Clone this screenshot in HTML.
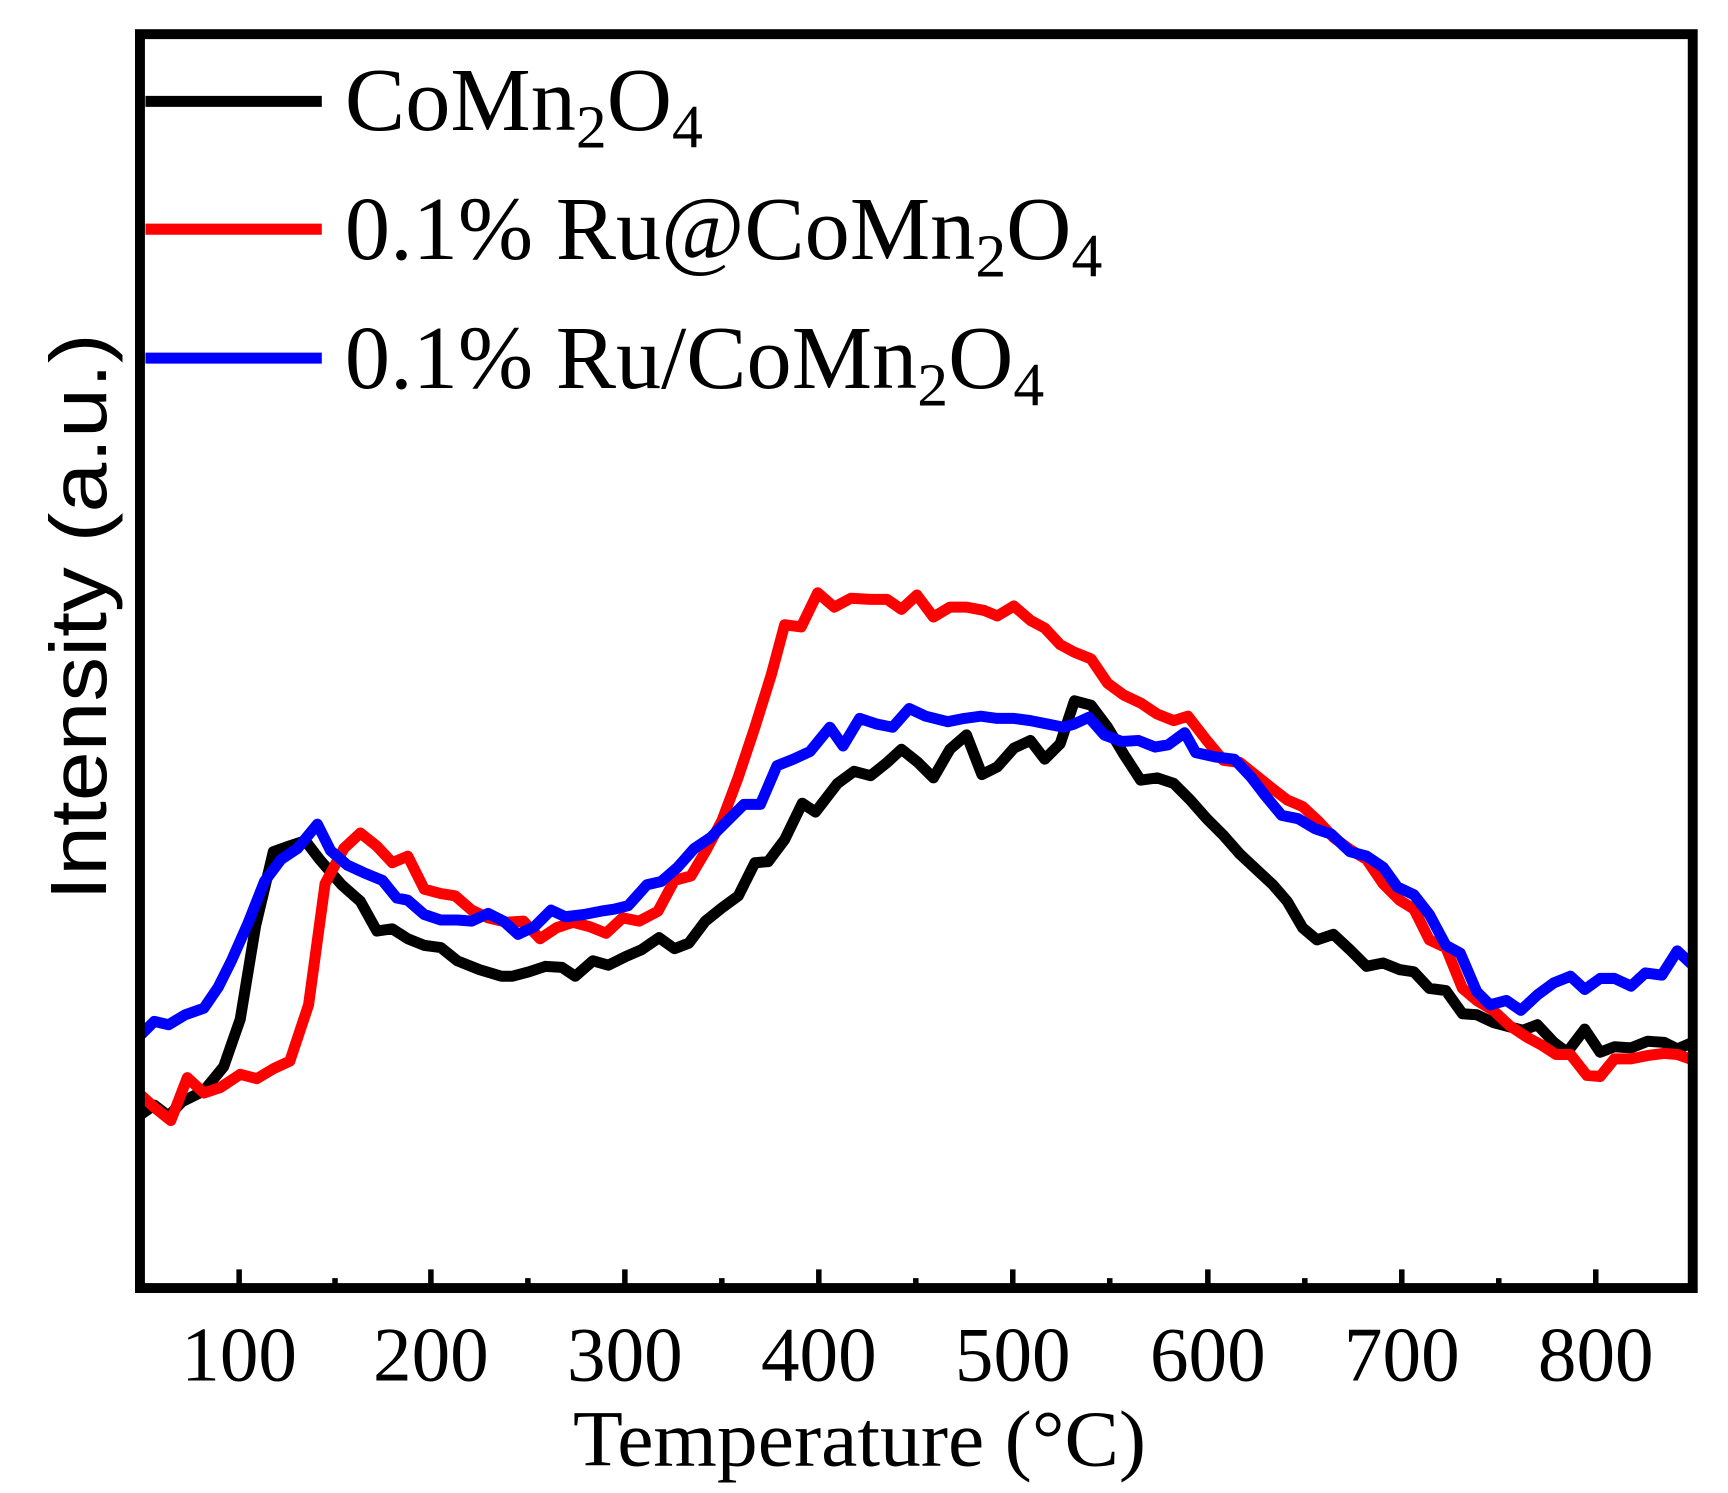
<!DOCTYPE html>
<html><head><meta charset="utf-8"><style>html,body{margin:0;padding:0;background:#fff}svg{display:block}</style></head>
<body>
<svg width="1728" height="1493" viewBox="0 0 1568 1355" preserveAspectRatio="none" xmlns="http://www.w3.org/2000/svg">
<defs><clipPath id="c"><rect x="127" y="31" width="1409" height="1138"/></clipPath></defs>
<g clip-path="url(#c)" fill="none" stroke-width="10" stroke-linejoin="round">
<polyline stroke="#000" points="127,1012 140,1003 153,1013 165,1000 185,990 203,968 218,925 232,840 248,773 262,768 277,763 290,780 310,803 327,818 342,845 356,843 370,852 385,858 400,860 415,872 435,880 455,886 465,886 480,882 495,877 510,878 522,886 538,872 552,876 568,868 582,862 598,851 612,861 625,856 640,836 655,824 670,813 685,783 697,782 712,762 728,729 740,737 760,711 775,700 790,704 805,692 818,680 833,692 847,706 862,680 877,667 891,703 905,696 920,679 935,672 948,689 962,675 975,636 990,640 1005,660 1020,685 1035,708 1050,706 1065,711 1080,726 1095,743 1110,758 1125,775 1140,789 1155,803 1168,818 1182,842 1195,853 1210,848 1225,862 1240,877 1255,874 1270,880 1283,882 1297,897 1312,899 1327,920 1340,921 1355,928 1370,932 1382,935 1395,930 1410,946 1422,955 1438,934 1452,955 1465,950 1480,951 1495,945 1510,946 1522,952 1536,946"/>
<polyline stroke="#f00" points="127,993 140,1005 155,1017 170,978 185,992 200,987 218,975 233,979 248,970 263,963 280,912 295,802 312,770 327,756 342,768 356,783 370,777 385,807 400,811 413,813 428,826 443,833 460,837 475,836 490,852 505,842 520,837 535,841 550,847 565,833 580,836 597,827 612,799 627,795 640,773 655,745 670,705 685,660 700,612 712,567 727,569 742,538 757,551 772,543 790,544 805,544 818,553 832,540 847,560 862,551 877,551 893,554 905,559 920,550 935,563 948,570 962,585 975,592 990,598 1005,620 1020,631 1035,638 1050,648 1065,654 1078,650 1095,672 1110,690 1125,692 1140,704 1155,716 1168,726 1182,732 1196,745 1210,760 1225,771 1240,780 1255,802 1270,817 1283,825 1297,853 1312,860 1327,897 1340,908 1355,917 1370,931 1385,941 1398,948 1412,957 1425,957 1440,976 1452,977 1465,961 1480,961 1495,958 1510,956 1522,957 1536,962"/>
<polyline stroke="#00f" points="127,940 140,927 153,930 168,921 185,915 198,896 210,872 225,838 240,800 255,780 270,770 288,748 300,772 315,785 330,792 347,799 360,815 370,817 385,830 400,835 415,835 428,836 443,829 457,836 470,848 485,841 500,826 513,832 530,830 545,827 558,825 570,822 587,803 600,800 615,787 630,770 645,760 660,745 675,730 690,730 705,695 720,689 735,682 753,660 765,677 780,652 795,657 810,660 825,643 840,650 860,655 875,652 890,650 905,652 920,652 935,654 950,657 965,660 975,657 988,651 1002,667 1018,673 1033,672 1048,678 1060,676 1075,665 1085,683 1103,687 1120,689 1135,705 1148,722 1163,740 1178,743 1193,752 1208,757 1225,773 1240,777 1255,787 1268,805 1283,812 1297,830 1312,858 1325,865 1340,900 1352,912 1367,908 1380,917 1395,903 1410,892 1425,886 1438,898 1452,888 1465,888 1480,895 1493,883 1508,885 1522,863 1536,876"/>
</g>
<rect x="127" y="31" width="1409" height="1138" fill="none" stroke="#000" stroke-width="9"/>
<g stroke="#000" stroke-width="5">
<path d="M217,1169v-17M391,1169v-17M567,1169v-17M743,1169v-17M919,1169v-17M1096,1169v-17M1272,1169v-17M1448,1169v-17"/>
<path d="M304,1169v-9M479,1169v-9M655,1169v-9M831,1169v-9M1007,1169v-9M1184,1169v-9M1360,1169v-9"/>
</g>
<g font-family="Liberation Serif, serif" font-size="70" text-anchor="middle">
<text x="217" y="1253">100</text><text x="391" y="1253">200</text><text x="567" y="1253">300</text><text x="743" y="1253">400</text><text x="919" y="1253">500</text><text x="1096" y="1253">600</text><text x="1272" y="1253">700</text><text x="1448" y="1253">800</text>
</g>
<text x="780" y="1330" font-family="Liberation Serif, serif" font-size="72" text-anchor="middle" textLength="520" lengthAdjust="spacingAndGlyphs">Temperature (°C)</text>
<text transform="translate(96,560) rotate(-90)" font-family="Liberation Sans, sans-serif" font-size="72" text-anchor="middle" textLength="515" lengthAdjust="spacingAndGlyphs">Intensity (a.u.)</text>
<g stroke-width="10">
<line x1="132" y1="92" x2="292" y2="92" stroke="#000"/>
<line x1="132" y1="208" x2="292" y2="208" stroke="#f00"/>
<line x1="132" y1="325" x2="292" y2="325" stroke="#00f"/>
</g>
<g font-family="Liberation Serif, serif" font-size="82">
<text x="313" y="118">CoMn<tspan font-size="56" dy="16">2</tspan><tspan dy="-16">O</tspan><tspan font-size="56" dy="16">4</tspan></text>
<text x="313" y="235">0.1% Ru@CoMn<tspan font-size="56" dy="16">2</tspan><tspan dy="-16">O</tspan><tspan font-size="56" dy="16">4</tspan></text>
<text x="313" y="352">0.1% Ru/CoMn<tspan font-size="56" dy="16">2</tspan><tspan dy="-16">O</tspan><tspan font-size="56" dy="16">4</tspan></text>
</g>
</svg>
</body></html>
